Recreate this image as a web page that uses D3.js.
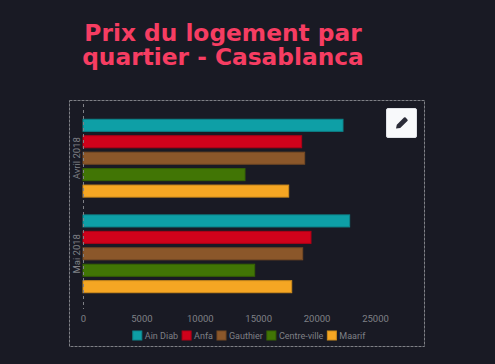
<!DOCTYPE html>
<html lang="fr">
<head>
    <meta charset="UTF-8">
    <title>Prix du logement par quartier - Casablanca</title>
    <script src="https://cdn.jsdelivr.net/npm/d3@7"></script>
    <style>
        html, body { margin: 0; padding: 0; background: #191a24; overflow: hidden; }
        svg { display: block; }
    </style>
</head>
<body>
<script type="application/javascript">
    const titleLines = ['Prix du logement par', 'quartier - Casablanca'];
    const months = ['Avril 2018', 'Mai 2018'];
    const quartiers = ['Ain Diab', 'Anfa', 'Gauthier', 'Centre-ville', 'Maarif'];
    const colors = ['#0e9fa6', '#d0021b', '#8b572a', '#417505', '#f5a623'];
    const strokes = ['#0c858b', '#ae0217', '#744923', '#366204', '#cd8b1d'];
    const avril = [22260, 18720, 18980, 13870, 17610];
    const mai = [22830, 19520, 18810, 14700, 17870];
    const xTicks = [0, 5000, 10000, 15000, 20000, 25000];
    const values = [avril, mai];

    const w = 495, h = 364;
    const grey = '#7f8086';
    const font = 'Roboto, "Liberation Sans", Arial, sans-serif';

    let svg = d3.select('body')
        .append('svg')
        .attr('width', w)
        .attr('height', h);

    // titre
    svg.selectAll('.title')
        .data(titleLines)
        .enter()
        .append('text')
        .attr('class', 'title')
        .attr('x', 223)
        .attr('y', (d, i) => 40.7 + i * 24.6)
        .attr('text-anchor', 'middle')
        .attr('font-family', '"DejaVu Sans", sans-serif')
        .attr('font-weight', 700)
        .attr('font-size', 23.3)
        .attr('fill', '#f63d62')
        .text(d => d);

    // cadre en pointillés
    svg.append('rect')
        .attr('x', 69.5)
        .attr('y', 100.5)
        .attr('width', 355)
        .attr('height', 246)
        .attr('fill', 'none')
        .attr('stroke', grey)
        .attr('stroke-dasharray', '3,1');

    // échelles
    let xScale = d3.scaleLinear()
        .domain([0, 25000])
        .range([83, 375]);

    let yScale = d3.scaleBand()
        .domain(months)
        .range([103.5, 308.5])
        .paddingInner(0.14)
        .paddingOuter(0.142);

    let barScale = d3.scaleBand()
        .domain(quartiers)
        .range([0, yScale.bandwidth()])
        .paddingInner(0.268)
        .paddingOuter(0.134);

    // barres
    let groups = svg.selectAll('.group')
        .data(months)
        .enter()
        .append('g')
        .attr('class', 'group')
        .attr('transform', d => 'translate(0,' + yScale(d) + ')');

    groups.selectAll('rect')
        .data((d, i) => values[i])
        .enter()
        .append('rect')
        .attr('x', xScale(0))
        .attr('y', (d, i) => barScale(quartiers[i]))
        .attr('width', d => xScale(d) - xScale(0))
        .attr('height', barScale.bandwidth())
        .attr('fill', (d, i) => colors[i])
        .attr('stroke', (d, i) => strokes[i])
        .attr('stroke-width', 1);

    // axe vertical
    let yAxis = svg.append('g')
        .attr('transform', 'translate(' + xScale(0) + ',0)')
        .call(d3.axisLeft(yScale).tickSize(0));
    yAxis.select('.domain')
        .attr('stroke', grey)
        .attr('stroke-dasharray', '3,3');
    yAxis.selectAll('text')
        .attr('transform', 'rotate(-90)')
        .attr('x', 0)
        .attr('y', 0.5)
        .attr('dx', null)
        .attr('dy', null)
        .attr('text-anchor', 'middle')
        .attr('font-family', font)
        .attr('font-size', 9.5)
        .attr('fill', grey);
    yAxis.selectAll('.tick')
        .attr('transform', d => 'translate(-3.5,' + (yScale(d) + yScale.bandwidth() / 2) + ')');

    // axe horizontal
    let xAxis = svg.append('g')
        .attr('transform', 'translate(0,312)')
        .call(d3.axisBottom(xScale).tickValues(xTicks).tickFormat(d3.format('d')).tickSize(0));
    xAxis.select('.domain').remove();
    xAxis.selectAll('text')
        .attr('font-family', font)
        .attr('font-size', 9.5)
        .attr('fill', grey);

    // légende
    let legendX = 132.8;
    quartiers.forEach((q, i) => {
        svg.append('rect')
            .attr('x', legendX)
            .attr('y', 331)
            .attr('width', 9)
            .attr('height', 9)
            .attr('fill', colors[i])
            .attr('stroke', strokes[i]);
        let label = svg.append('text')
            .attr('x', legendX + 12)
            .attr('y', 338.5)
            .attr('font-family', font)
            .attr('font-size', 9)
            .attr('fill', grey)
            .text(q);
        legendX += 12 + label.node().getComputedTextLength() + 4;
    });

    // bouton crayon
    let button = svg.append('g').attr('transform', 'translate(386,108)');
    button.append('rect')
        .attr('x', 0.5)
        .attr('y', 0.5)
        .attr('width', 30)
        .attr('height', 29)
        .attr('rx', 1.5)
        .attr('fill', '#f8f9fb')
        .attr('stroke', '#dfe1e6');
    button.append('path')
        .attr('d', 'M10 20.5 L10.8 16.8 L18 9.6 Q18.8 8.8 19.6 9.6 L21.4 11.4 Q22.2 12.2 21.4 13 L14.2 20 Z')
        .attr('fill', '#2b2c38');
</script>
</body>
</html>
